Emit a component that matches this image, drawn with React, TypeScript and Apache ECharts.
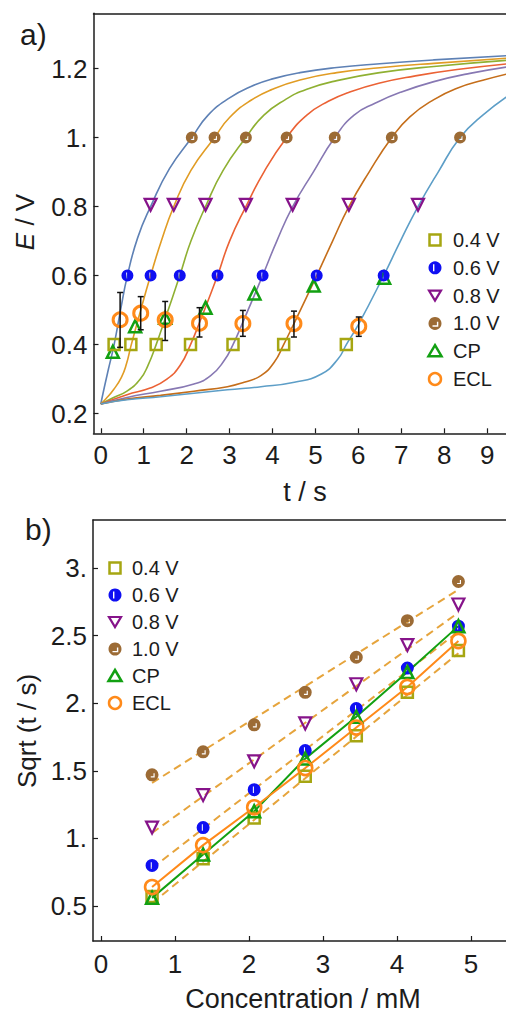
import React, { useEffect, useRef } from "react";
import * as echarts from "echarts";

const FONT = "'Liberation Sans', Arial, sans-serif";
const INK = "#1c1c1c";

// ---------- Panel a: potential transients (t / s vs E / V) ----------
const curve1 = [[0, 0.228], [0.08, 0.275], [0.18, 0.33], [0.31, 0.4], [0.46, 0.5], [0.62, 0.6], [0.86, 0.71], [1.16, 0.8], [1.6, 0.91], [2.12, 1.0], [2.5, 1.065], [3.0, 1.115], [3.5, 1.148], [4.0, 1.17], [4.64, 1.188], [5.5, 1.203], [6.5, 1.214], [7.76, 1.225], [9.6, 1.238]];
const curve2 = [[0, 0.228], [0.12, 0.243], [0.3, 0.27], [0.48, 0.305], [0.6, 0.345], [0.7, 0.395], [0.93, 0.5], [1.16, 0.6], [1.41, 0.7], [1.7, 0.8], [2.1, 0.905], [2.65, 1.0], [3.0, 1.058], [3.5, 1.108], [4.0, 1.14], [4.64, 1.167], [5.5, 1.188], [6.5, 1.202], [7.76, 1.215], [9.6, 1.231]];
const curve3 = [[0, 0.228], [0.3, 0.247], [0.61, 0.265], [0.92, 0.3], [1.1, 0.34], [1.29, 0.4], [1.5, 0.475], [1.84, 0.6], [2.1, 0.7], [2.44, 0.8], [2.85, 0.905], [3.38, 1.0], [3.8, 1.065], [4.3, 1.11], [4.8, 1.14], [5.5, 1.165], [6.5, 1.188], [7.76, 1.206], [9.6, 1.225]];
const curve4 = [[0, 0.228], [0.61, 0.255], [1.15, 0.274], [1.54, 0.3], [1.85, 0.34], [2.09, 0.4], [2.3, 0.464], [2.72, 0.6], [3.0, 0.7], [3.38, 0.8], [3.8, 0.9], [4.33, 1.0], [4.8, 1.065], [5.3, 1.105], [5.8, 1.132], [6.5, 1.158], [7.3, 1.178], [8.3, 1.197], [9.6, 1.215]];
const curve5 = [[0, 0.228], [0.61, 0.247], [1.39, 0.265], [2.17, 0.286], [2.56, 0.31], [2.87, 0.353], [3.08, 0.4], [3.31, 0.465], [3.77, 0.6], [4.1, 0.7], [4.47, 0.8], [4.95, 0.9], [5.45, 1.0], [5.9, 1.065], [6.4, 1.1], [6.98, 1.131], [7.76, 1.162], [8.6, 1.186], [9.6, 1.207]];
const curve6 = [[0, 0.228], [0.61, 0.242], [1.39, 0.253], [2.17, 0.265], [2.95, 0.278], [3.34, 0.291], [3.73, 0.31], [4.04, 0.349], [4.26, 0.4], [4.5, 0.461], [5.03, 0.6], [5.4, 0.7], [5.78, 0.8], [6.25, 0.9], [6.78, 1.0], [7.2, 1.06], [7.76, 1.11], [8.3, 1.143], [8.9, 1.166], [9.6, 1.188]];
const curve7 = [[0, 0.228], [0.61, 0.24], [1.39, 0.249], [2.17, 0.259], [2.95, 0.269], [3.73, 0.278], [4.51, 0.291], [5.14, 0.315], [5.53, 0.359], [5.72, 0.4], [6.01, 0.46], [6.59, 0.6], [6.98, 0.7], [7.39, 0.8], [7.86, 0.9], [8.37, 1.0], [8.9, 1.065], [9.6, 1.13]];
const curves = [curve1, curve2, curve3, curve4, curve5, curve6, curve7];
const curveColors = ["#5E81B5", "#E19C24", "#8FB032", "#EB6235", "#8778B3", "#C56E1A", "#5D9EC7"];

const t04 = [0.31, 0.7, 1.29, 2.09, 3.08, 4.26, 5.72];
const t06 = [0.62, 1.16, 1.84, 2.72, 3.77, 5.03, 6.59];
const t08 = [1.16, 1.7, 2.44, 3.38, 4.47, 5.78, 7.39];
const t10 = [2.12, 2.65, 3.38, 4.33, 5.45, 6.78, 8.37];
const levelE = [0.4, 0.6, 0.805, 1.0];
const cpT = [0.28, 0.8, 1.5, 2.44, 3.58, 4.96, 6.6];
const cpE = [0.379, 0.453, 0.478, 0.507, 0.548, 0.571, 0.594];
const eclT = [0.45, 0.93, 1.5, 2.3, 3.31, 4.5, 6.01];
const eclE = [0.472, 0.491, 0.472, 0.462, 0.461, 0.461, 0.453];
const eclLo = [0.392, 0.443, 0.412, 0.422, 0.424, 0.422, 0.424];
const eclHi = [0.551, 0.539, 0.525, 0.507, 0.499, 0.497, 0.48];

// ---------- Panel b: Sqrt(t) vs concentration ----------
const conc = [0.69, 1.38, 2.07, 2.76, 3.45, 4.14, 4.83];
const b04 = [0.57, 0.85, 1.15, 1.46, 1.76, 2.08, 2.39];
const b06 = [0.8, 1.08, 1.36, 1.65, 1.96, 2.26, 2.57];
const b08 = [1.08, 1.32, 1.57, 1.85, 2.14, 2.43, 2.73];
const b10 = [1.47, 1.64, 1.84, 2.08, 2.34, 2.61, 2.9];
const bCP = [0.56, 0.88, 1.2, 1.59, 1.9, 2.23, 2.57];
const bECL = [0.64, 0.95, 1.23, 1.52, 1.82, 2.12, 2.46];
const fitConc = [0.69, 4.83];
const fit04 = [0.52, 2.37];
const fit06 = [0.78, 2.53];
const fit08 = [1.04, 2.67];
const fit10 = [1.41, 2.84];

// ---------- ticks & labels ----------
const topXTicks = [0, 1, 2, 3, 4, 5, 6, 7, 8, 9];
const topYTicks = [0.2, 0.4, 0.6, 0.8, 1.0, 1.2];
const topYLabels = ["0.2", "0.4", "0.6", "0.8", "1.", "1.2"];
const botXTicks = [0, 1, 2, 3, 4, 5];
const botYTicks = [0.5, 1.0, 1.5, 2.0, 2.5, 3.0];
const botYLabels = ["0.5", "1.", "1.5", "2.", "2.5", "3."];
const legendLabels = ["0.4 V", "0.6 V", "0.8 V", "1.0 V", "CP", "ECL"];

const C04 = "#A6A612";
const C06 = "#0F0FF2";
const C08 = "#86138A";
const C10 = "#9C6B35";
const CCP = "#12A012";
const CECL = "#FF8A1A";
const CFIT = "#E6A43C";

const SYM_BLUE = "path://M10,0A10,10,0,0,1,10,20A10,10,0,0,1,10,0ZM8,5L8,15L9.6,15L9.6,5Z";
const SYM_BROWN = "path://M10,0A10,10,0,0,1,10,20A10,10,0,0,1,10,0ZM14,7.5L12.2,7.5L12.2,12.2L8,12.2L8,14L14,14Z";
const SYM_DOWN = "path://M0,0L20,0L10,17Z";
const SYM_UP = "path://M10,0L20,17L0,17Z";

function labelFor(ticks: number[], labels: string[]) {
  return (v: number) => {
    const i = ticks.findIndex((t) => Math.abs(t - v) < 1e-6);
    return i >= 0 ? labels[i] : "";
  };
}

function zip(xs: number[], ys: number[]) {
  return xs.map((x, i) => [x, ys[i]]);
}

function legendGraphics(cx: number, y0: number, dy: number, tx: number) {
  const ys = legendLabels.map((_, i) => y0 + i * dy);
  const els: any[] = [
    { type: "rect", shape: { x: cx - 5.5, y: ys[0] - 5.5, width: 11, height: 11 }, style: { fill: "none", stroke: C04, lineWidth: 2.5 } },
    { type: "circle", shape: { cx, cy: ys[1], r: 6.5 }, style: { fill: C06 } },
    { type: "rect", shape: { x: cx - 2, y: ys[1] - 3.5, width: 1.4, height: 7 }, style: { fill: "#fff" } },
    { type: "polygon", shape: { points: [[cx - 6, ys[2] - 5], [cx + 6, ys[2] - 5], [cx, ys[2] + 5]] }, style: { fill: "none", stroke: C08, lineWidth: 2.2 } },
    { type: "circle", shape: { cx, cy: ys[3], r: 6.5 }, style: { fill: C10 } },
    { type: "polyline", shape: { points: [[cx - 2.5, ys[3] + 2.6], [cx + 2.6, ys[3] + 2.6], [cx + 2.6, ys[3] - 1.6]] }, style: { stroke: "#fff", lineWidth: 1.4, fill: "none" } },
    { type: "polygon", shape: { points: [[cx, ys[4] - 6], [cx + 6.5, ys[4] + 5], [cx - 6.5, ys[4] + 5]] }, style: { fill: "none", stroke: CCP, lineWidth: 2.5 } },
    { type: "circle", shape: { cx, cy: ys[5], r: 6 }, style: { fill: "none", stroke: CECL, lineWidth: 2.5 } },
  ];
  legendLabels.forEach((lab, i) => {
    els.push({
      type: "text",
      x: tx,
      y: ys[i],
      style: { text: lab, fontSize: 20, fontFamily: FONT, fill: INK, align: "left", verticalAlign: "middle" },
    });
  });
  return els;
}

function scatter(name: string, xi: number, yi: number, data: number[][], symbol: string, size: number, color: string, hollow: boolean, bw = 2.5) {
  return {
    name,
    type: "scatter",
    xAxisIndex: xi,
    yAxisIndex: yi,
    data,
    symbol,
    symbolSize: size,
    itemStyle: hollow
      ? { color: "rgba(255,255,255,0)", borderColor: color, borderWidth: bw, opacity: 1 }
      : { color, opacity: 1 },
    z: 3,
  };
}

export default function App() {
  const ref = useRef<HTMLDivElement>(null);

  useEffect(() => {
    if (!ref.current) return;
    const chart = echarts.init(ref.current, undefined, { renderer: "svg" });

    const axisLine = { show: true, onZero: false, lineStyle: { color: INK, width: 1.5 } };
    const tickStyle = { color: INK, width: 1.2 };
    const labelBase = { fontSize: 26, color: INK, fontFamily: FONT };

    const series: any[] = [];
    curves.forEach((c, i) => {
      series.push({
        type: "line",
        xAxisIndex: 0,
        yAxisIndex: 0,
        data: c,
        showSymbol: false,
        smooth: 0.5,
        lineStyle: { color: curveColors[i], width: 1.6 },
        z: 2,
        silent: true,
      });
    });
    series.push(scatter("CP", 0, 0, zip(cpT, cpE), SYM_UP, 12, CCP, true));
    series.push(scatter("ECL", 0, 0, zip(eclT, eclE), "circle", 14, CECL, true, 3));
    series.push(scatter("0.4 V", 0, 0, t04.map((t) => [t, levelE[0]]), "rect", 11, C04, true));
    series.push(scatter("0.6 V", 0, 0, t06.map((t) => [t, levelE[1]]), SYM_BLUE, 12, C06, false));
    series.push(scatter("0.8 V", 0, 0, t08.map((t) => [t, levelE[2]]), SYM_DOWN, 12, C08, true, 2.2));
    series.push(scatter("1.0 V", 0, 0, t10.map((t) => [t, levelE[3]]), SYM_BROWN, 12, C10, false));
    series.push({
      type: "custom",
      xAxisIndex: 0,
      yAxisIndex: 0,
      data: eclT.map((t, i) => [t, eclLo[i], eclHi[i]]),
      encode: { x: 0, y: [1, 2] },
      z: 4,
      renderItem: (_p: any, api: any) => {
        const x = api.value(0);
        const a = api.coord([x, api.value(2)]);
        const b = api.coord([x, api.value(1)]);
        const w = 3;
        const st = { stroke: "#111", lineWidth: 1.5 };
        return {
          type: "group",
          children: [
            { type: "line", shape: { x1: a[0], y1: a[1], x2: b[0], y2: b[1] }, style: st },
            { type: "line", shape: { x1: a[0] - w, y1: a[1], x2: a[0] + w, y2: a[1] }, style: st },
            { type: "line", shape: { x1: b[0] - w, y1: b[1], x2: b[0] + w, y2: b[1] }, style: st },
          ],
        };
      },
    });

    // panel b
    const fits = [fit04, fit06, fit08, fit10];
    fits.forEach((f) => {
      series.push({
        type: "line",
        xAxisIndex: 2,
        yAxisIndex: 1,
        data: zip(fitConc, f),
        showSymbol: false,
        lineStyle: { color: CFIT, width: 2, type: [8, 5] },
        z: 2,
        silent: true,
      });
    });
    series.push({ type: "line", xAxisIndex: 2, yAxisIndex: 1, data: zip(conc, bCP), showSymbol: false, lineStyle: { color: CCP, width: 2 }, z: 2, silent: true });
    series.push({ type: "line", xAxisIndex: 2, yAxisIndex: 1, data: zip(conc, bECL), showSymbol: false, lineStyle: { color: CECL, width: 2 }, z: 2, silent: true });
    series.push(scatter("0.4 V", 2, 1, zip(conc, b04), "rect", 11, C04, true));
    series.push(scatter("0.6 V", 2, 1, zip(conc, b06), SYM_BLUE, 13, C06, false));
    series.push(scatter("0.8 V", 2, 1, zip(conc, b08), SYM_DOWN, 12, C08, true, 2.2));
    series.push(scatter("1.0 V", 2, 1, zip(conc, b10), SYM_BROWN, 13, C10, false));
    series.push(scatter("CP", 2, 1, zip(conc, bCP), SYM_UP, 12, CCP, true));
    series.push(scatter("ECL", 2, 1, zip(conc, bECL), "circle", 14, CECL, true, 2.6));

    const graphic: any[] = [
      { type: "text", x: 20, y: 34, style: { text: "a)", fontSize: 30, fontFamily: FONT, fill: INK, align: "left", verticalAlign: "middle" } },
      { type: "text", x: 25, y: 529, style: { text: "b)", fontSize: 30, fontFamily: FONT, fill: INK, align: "left", verticalAlign: "middle" } },
      {
        type: "text",
        x: 25,
        y: 222,
        rotation: Math.PI / 2,
        style: {
          text: "{i|E} / V",
          fontSize: 26,
          fontFamily: FONT,
          fill: INK,
          align: "center",
          verticalAlign: "middle",
          rich: { i: { fontStyle: "italic", fontSize: 26, fontFamily: FONT, fill: INK } },
        },
      },
      { type: "text", x: 305, y: 492, style: { text: "t / s", fontSize: 27, fontFamily: FONT, fill: INK, align: "center", verticalAlign: "middle" } },
      { type: "text", x: 27, y: 731, rotation: Math.PI / 2, style: { text: "Sqrt (t / s)", fontSize: 26, fontFamily: FONT, fill: INK, align: "center", verticalAlign: "middle" } },
      { type: "text", x: 303, y: 999, style: { text: "Concentration / mM", fontSize: 27, fontFamily: FONT, fill: INK, align: "center", verticalAlign: "middle" } },
      ...legendGraphics(435, 240, 27.8, 453),
      ...legendGraphics(115, 568, 27, 132),
    ];

    chart.setOption({
      animation: false,
      backgroundColor: "#ffffff",
      grid: [
        { left: 93.5, top: 13.3, width: 412.5, height: 420, containLabel: false },
        { left: 93, top: 520, width: 413, height: 421, containLabel: false },
      ],
      xAxis: [
        {
          gridIndex: 0, type: "value", min: -0.17, max: 9.44, position: "bottom",
          axisLine,
          axisTick: { show: true, inside: true, length: 5, customValues: topXTicks, lineStyle: tickStyle },
          axisLabel: { show: true, customValues: topXTicks, margin: 9, ...labelBase, formatter: (v: number) => String(v) },
          splitLine: { show: false },
        },
        {
          gridIndex: 0, type: "value", min: -0.17, max: 9.44, position: "top",
          axisLine, axisTick: { show: false }, axisLabel: { show: false }, splitLine: { show: false },
        },
        {
          gridIndex: 1, type: "value", min: -0.108, max: 5.473, position: "bottom",
          axisLine,
          axisTick: { show: true, inside: true, length: 5, customValues: botXTicks, lineStyle: tickStyle },
          axisLabel: { show: true, customValues: botXTicks, margin: 10, ...labelBase, formatter: (v: number) => String(v) },
          splitLine: { show: false },
        },
        {
          gridIndex: 1, type: "value", min: -0.108, max: 5.473, position: "top",
          axisLine, axisTick: { show: false }, axisLabel: { show: false }, splitLine: { show: false },
        },
      ],
      yAxis: [
        {
          gridIndex: 0, type: "value", min: 0.143, max: 1.36,
          axisLine,
          axisTick: { show: true, inside: true, length: 5, customValues: topYTicks, lineStyle: tickStyle },
          axisLabel: { show: true, customValues: topYTicks, margin: 6, ...labelBase, formatter: labelFor(topYTicks, topYLabels) },
          splitLine: { show: false },
        },
        {
          gridIndex: 1, type: "value", min: 0.241, max: 3.355,
          axisLine,
          axisTick: { show: true, inside: true, length: 5, customValues: botYTicks, lineStyle: tickStyle },
          axisLabel: { show: true, customValues: botYTicks, margin: 6, ...labelBase, formatter: labelFor(botYTicks, botYLabels) },
          splitLine: { show: false },
        },
      ],
      series,
      graphic,
    });

    return () => chart.dispose();
  }, []);

  return (
    <div
      ref={ref}
      style={{ position: "fixed", left: 0, top: 0, width: 506, height: 1015, background: "#fff" }}
    />
  );
}
